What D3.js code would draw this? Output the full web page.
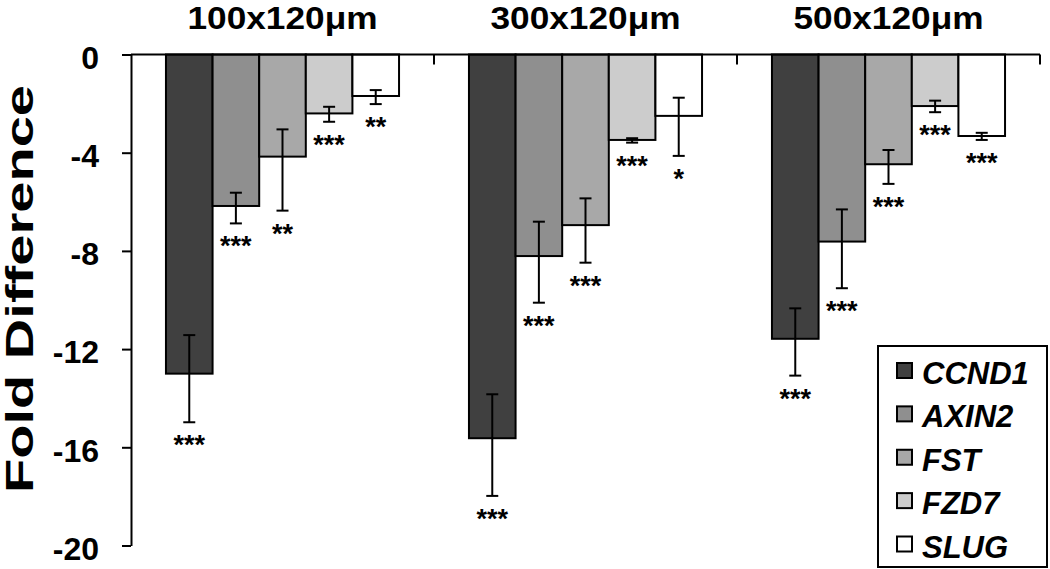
<!DOCTYPE html>
<html>
<head>
<meta charset="utf-8">
<script src="https://cdn.jsdelivr.net/npm/d3@7"></script>
<style>
  body { margin: 0; background: #fff; }
  text { font-family: "Liberation Sans", Arial, sans-serif; font-weight: bold; }
</style>
</head>
<body>
<div id="my_dataviz"></div>
<script>
// chart data
var groups = ["100x120μm", "300x120μm", "500x120μm"];
var genes = ["CCND1", "AXIN2", "FST", "FZD7", "SLUG"];
var geneColors = ["#404040", "#8f8f8f", "#a8a8a8", "#cccccc", "#ffffff"];

// mean fold difference, one row per group (genes in order above)
var meanVals = [
  [-13.0, -6.17, -4.16, -2.40, -1.69],
  [-15.63, -8.21, -6.95, -3.48, -2.50],
  [-11.58, -7.62, -4.47, -2.10, -3.32]
];
// error bar ends (towards zero / away from zero)
var errNear = [
  [-11.43, -5.63, -3.05, -2.13, -1.45],
  [-13.84, -6.81, -5.86, -3.41, -1.76],
  [-10.34, -6.31, -3.89, -1.88, -3.19]
];
var errFar = [
  [-14.98, -6.88, -6.36, -2.74, -2.02],
  [-17.98, -10.11, -8.48, -3.59, -4.13],
  [-13.08, -9.52, -5.27, -2.35, -3.48]
];
var stars = [
  ["***", "***", "**", "***", "**"],
  ["***", "***", "***", "***", "*"],
  ["***", "***", "***", "***", "***"]
];
var yTicks = [0, -4, -8, -12, -16, -20];

var width = 1050, height = 569;

var svg = d3.select("#my_dataviz")
  .append("svg")
  .attr("width", width)
  .attr("height", height);

var y = d3.scaleLinear()
  .domain([0, -20])
  .range([54.5, 545.5]);

var x0 = d3.scaleBand()
  .domain(groups)
  .range([131, 1040])
  .padding(0);

var x1 = d3.scaleBand()
  .domain(genes)
  .range([0, x0.bandwidth()])
  .paddingInner(0)
  .paddingOuter(0.75);

// rows of bars
var rows = [];
groups.forEach(function (g, gi) {
  genes.forEach(function (k, ki) {
    rows.push({
      group: g, gene: k, color: geneColors[ki],
      value: meanVals[gi][ki], near: errNear[gi][ki], far: errFar[gi][ki],
      star: stars[gi][ki]
    });
  });
});

// bars
svg.append("g")
  .selectAll("rect")
  .data(rows)
  .enter()
  .append("rect")
  .attr("x", function (d) { return x0(d.group) + x1(d.gene); })
  .attr("y", y(0))
  .attr("width", x1.bandwidth())
  .attr("height", function (d) { return y(d.value) - y(0); })
  .attr("fill", function (d) { return d.color; })
  .attr("stroke", "#000")
  .attr("stroke-width", 2);

// error bars
var eb = svg.append("g")
  .attr("stroke", "#000")
  .attr("stroke-width", 2);
rows.forEach(function (d) {
  var cx = x0(d.group) + x1(d.gene) + x1.bandwidth() / 2;
  eb.append("line")
    .attr("x1", cx).attr("x2", cx)
    .attr("y1", y(d.near)).attr("y2", y(d.far));
  [d.near, d.far].forEach(function (v) {
    eb.append("line")
      .attr("x1", cx - 6).attr("x2", cx + 6)
      .attr("y1", y(v)).attr("y2", y(v));
  });
});

// significance stars
svg.append("g")
  .selectAll("text")
  .data(rows)
  .enter()
  .append("text")
  .attr("x", function (d) { return x0(d.group) + x1(d.gene) + x1.bandwidth() / 2; })
  .attr("y", function (d) { return y(d.far) + 32; })
  .attr("text-anchor", "middle")
  .attr("font-size", 27)
  .text(function (d) { return d.star; });

// y axis
var yAxis = svg.append("g")
  .attr("transform", "translate(131,0)")
  .call(d3.axisLeft(y)
    .tickValues(yTicks)
    .tickFormat(function (d) { return String(d); })
    .tickSize(9)
    .tickSizeOuter(0)
    .tickPadding(23));
yAxis.selectAll("path, line").attr("stroke", "#000").attr("stroke-width", 2);
yAxis.selectAll("text")
  .attr("font-size", 32)
  .attr("font-family", "'Liberation Sans', Arial, sans-serif")
  .attr("font-weight", "bold")
  .attr("fill", "#000")
  .attr("dy", "0.43em");

// zero line with group separators
var zl = svg.append("g")
  .attr("stroke", "#000")
  .attr("stroke-width", 2);
zl.append("line")
  .attr("x1", x0.range()[0]).attr("x2", x0.range()[1])
  .attr("y1", y(0)).attr("y2", y(0));
groups.forEach(function (g) {
  var bx = x0(g) + x0.bandwidth();
  zl.append("line")
    .attr("x1", bx).attr("x2", bx)
    .attr("y1", y(0)).attr("y2", y(0) + 10);
});

// group titles
svg.append("g")
  .selectAll("text")
  .data(groups)
  .enter()
  .append("text")
  .attr("x", function (d) { return x0(d) + x0.bandwidth() / 2; })
  .attr("y", 29)
  .attr("text-anchor", "middle")
  .attr("font-size", 32)
  .attr("textLength", 190)
  .attr("lengthAdjust", "spacingAndGlyphs")
  .text(function (d) { return d; });

// y axis title
svg.append("text")
  .attr("transform", "translate(33," + 289 + ") rotate(-90)")
  .attr("text-anchor", "middle")
  .attr("font-size", 38)
  .attr("textLength", 408)
  .attr("lengthAdjust", "spacingAndGlyphs")
  .text("Fold Difference");

// legend
var legend = svg.append("g");
legend.append("rect")
  .attr("x", 878).attr("y", 346)
  .attr("width", 169).attr("height", 221)
  .attr("fill", "#fff")
  .attr("stroke", "#000")
  .attr("stroke-width", 2);
var ly = d3.scalePoint()
  .domain(genes)
  .range([373, 546.5]);
genes.forEach(function (k, i) {
  legend.append("rect")
    .attr("x", 897).attr("y", ly(k) - 10)
    .attr("width", 15).attr("height", 15)
    .attr("fill", geneColors[i])
    .attr("stroke", "#000")
    .attr("stroke-width", 2);
  legend.append("text")
    .attr("x", 922)
    .attr("y", ly(k) + 11)
    .attr("font-size", 31)
    .attr("font-style", "italic")
    .text(k);
});
</script>
</body>
</html>
